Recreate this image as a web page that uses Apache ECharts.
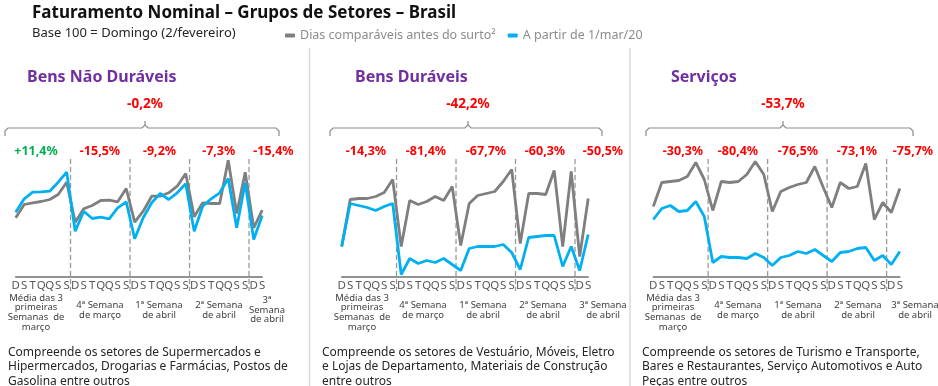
<!DOCTYPE html>
<html><head><meta charset="utf-8">
<script src="https://cdn.jsdelivr.net/npm/echarts@6/dist/echarts.min.js"></script>
<style>html,body{margin:0;padding:0;background:#fff}#c{width:938px;height:386px}</style>
</head><body><div id="c"></div>
<script>
// ---------- DATA ----------
const days = ['D','S','T','Q','Q','S','S','D','S','T','Q','Q','S','S','D','S','T','Q','Q','S','S','D','S','T','Q','Q','S','S','D','S'];
const seriesNames = ['Dias comparáveis antes do surto²', 'A partir de 1/mar/20'];
const panelTitles = ['Bens Não Duráveis', 'Bens Duráveis', 'Serviços'];
const totalChanges = ['-0,2%', '-42,2%', '-53,7%'];

const weekChangesND = ['+11,4%', '-15,5%', '-9,2%', '-7,3%', '-15,4%'];
const weekChangesD  = ['-14,3%', '-81,4%', '-67,7%', '-60,3%', '-50,5%'];
const weekChangesS  = ['-30,3%', '-80,4%', '-76,5%', '-73,1%', '-75,7%'];

const grayND = [98.7,112,113.7,115,117,122,134.3,94.3,107.7,111,116,116.3,114.7,128,94.3,105.3,120.3,120.3,123.7,130.3,143,99.7,113.7,113,113,156.3,103,144.3,88.7,106.3];
const blueND = [104.3,117.7,124.3,124.7,125.3,134.3,144.3,85.3,105.3,98,99.3,97.7,108.7,114.7,77.7,98.7,113.7,123,117,123.7,132.7,85.3,110.3,117.7,123.7,138,88.7,133.7,77,101];

const grayD = [70,117,118,118,120,124,137,70,116,112,115,120,116,130,71,113,121,123,125,135,147,73,123,123,122,146,70,145,60,118];
const blueD = [70,113,111,109,106,110,113,42,58,53,56,54,58,52,46,68,70,70,70,72,64,47,79,80,81,81,50,70,46,82];

const grayS = [110,134,135,136,140,154,137,106,135,134,135,142,155,142,105,125,129,132,134,150,129,109,134,128,130,153,97,114,104,128];
const blueS = [97,108,111,105,106,115,100,54,60,59,59,58,63,59,51,59,61,65,63,67,61,55,64,65,68,69,56,61,52,65];

const captionsND = ['Média das 3\nprimeiras\nSemanas  de\nmarço', '4ª Semana\nde março', '1ª Semana\nde abril', '2ª Semana\nde abril', '3ª\nSemana\nde abril'];
const captionsOther = ['Média das 3\nprimeiras\nSemanas  de\nmarço', '4ª Semana\nde março', '1ª Semana\nde abril', '2ª Semana\nde abril', '3ª Semana\nde abril'];

const notes = [
  'Compreende os setores de Supermercados e\nHipermercados, Drogarias e Farmácias, Postos de\nGasolina entre outros',
  'Compreende os setores de Vestuário, Móveis, Eletro\ne Lojas de Departamento, Materiais de Construção\nentre outros',
  'Compreende os setores de Turismo e Transporte,\nBares e Restaurantes, Serviço Automotivos e Auto\nPeças entre outros'
];
const weekBreaks = [6.45, 13.45, 20.45, 27.45];

// ---------- LAYOUT ----------
const FONT = '"Noto Sans", "Open Sans", sans-serif';
const GRAY = '#7f7f7f', BLUE = '#00b0f0', RED = '#ff0000', GREEN = '#00b050', PURPLE = '#7030a0';
const panels = [
  {left: 15.7, gray: grayND, blue: blueND, weeks: weekChangesND, caps: captionsND,
   titleX: 27, brace: [5, 145, 279], weekX: [36, 100, 159.5, 218.7, 273.5], capX: [36, 100, 159, 219, 267], noteX: 8},
  {left: 341.7, gray: grayD, blue: blueD, weeks: weekChangesD, caps: captionsOther,
   titleX: 355, brace: [330, 468, 602], weekX: [366, 426, 486, 545, 603], capX: [362, 423, 483, 543, 603], noteX: 322},
  {left: 653.3, gray: grayS, blue: blueS, weeks: weekChangesS, caps: captionsOther,
   titleX: 671, brace: [646, 783, 913], weekX: [683, 738, 798, 857, 913], capX: [673, 738, 798, 858, 915], noteX: 642}
];
const GRID_TOP = 156.5, GRID_H = 120, GRID_W = 246.5;

const grids = [], xAxes = [], yAxes = [], series = [];
panels.forEach((p, k) => {
  grids.push({left: p.left, top: GRID_TOP, width: GRID_W, height: GRID_H, containLabel: false});
  xAxes.push({type: 'value', gridIndex: k, min: 0, max: 29, interval: 1,
    axisLine: {show: true, lineStyle: {color: '#6f6f6f', width: 1.5}},
    axisTick: {show: false}, splitLine: {show: false},
    axisLabel: {formatter: v => days[v] || '', color: '#595959', fontSize: 11.5, margin: 3, fontFamily: FONT, showMinLabel: true, showMaxLabel: true}});
  yAxes.push({type: 'value', gridIndex: k, min: 40, max: 160, show: false, splitLine: {show: false}});
  series.push({name: seriesNames[0], type: 'line', xAxisIndex: k, yAxisIndex: k, data: p.gray.map((v, i) => [i, v]),
    symbol: 'none', lineStyle: {color: GRAY, width: 2.8}, itemStyle: {color: GRAY}, z: 2});
  series.push({name: seriesNames[1], type: 'line', xAxisIndex: k, yAxisIndex: k, data: p.blue.map((v, i) => [i, v]),
    symbol: 'none', lineStyle: {color: BLUE, width: 2.8}, itemStyle: {color: BLUE}, z: 3});
});

const chart = echarts.init(document.getElementById('c'));
chart.setOption({
  animation: false,
  grid: grids, xAxis: xAxes, yAxis: yAxes, series: series,
  legend: {left: 280, top: 24, data: seriesNames, icon: 'roundRect', itemWidth: 10, itemHeight: 4, itemGap: 12,
    textStyle: {color: '#8c8c8c', fontSize: 12.5, fontFamily: FONT}}
});

// ---------- GRAPHIC ----------
const g = [];
const txt = (x, y, text, opt) => g.push({type: 'text', x: x, y: y, silent: true,
  style: Object.assign({text: text, fontFamily: FONT, textVerticalAlign: 'middle'}, opt)});

txt(32, 13, 'Faturamento Nominal – Grupos de Setores – Brasil', {fontSize: 17, fontWeight: 'bold', fill: '#111'});
txt(32, 33, 'Base 100 = Domingo (2/fevereiro)', {fontSize: 13, fill: '#262626'});

[309.5, 630].forEach(x => g.push({type: 'line', silent: true, shape: {x1: x, y1: 48, x2: x, y2: 386},
  style: {stroke: '#d9d9d9', lineWidth: 1.5}}));

panels.forEach((p, k) => {
  txt(p.titleX, 77, panelTitles[k], {fontSize: 16, fontWeight: 'bold', fill: PURPLE});
  const [x0, xc, x1] = p.brace;
  txt(xc, 104, totalChanges[k], {fontSize: 13.5, fontWeight: 'bold', fill: RED, textAlign: 'center'});
  g.push({type: 'polyline', silent: true, shape: {points: [[x0, 136], [x0, 131], [x0 + 3, 128], [xc - 3, 128], [xc, 125], [xc, 121]]},
    style: {stroke: '#8c8c8c', lineWidth: 1.2, fill: null}});
  g.push({type: 'polyline', silent: true, shape: {points: [[xc, 125], [xc + 3, 128], [x1 - 3, 128], [x1, 131], [x1, 136]]},
    style: {stroke: '#8c8c8c', lineWidth: 1.2, fill: null}});
  p.weeks.forEach((w, j) => txt(p.weekX[j], 151, w, {fontSize: 12.5, fontWeight: 'bold',
    fill: w.charAt(0) === '+' ? GREEN : RED, textAlign: 'center'}));
  weekBreaks.forEach(b => {
    const pt = chart.convertToPixel({gridIndex: k}, [b, 40]);
    g.push({type: 'line', silent: true, z: 1, shape: {x1: pt[0], y1: 159, x2: pt[0], y2: 291},
      style: {stroke: '#999', lineWidth: 1.3, lineDash: [5, 3]}});
  });
  p.caps.forEach((c, j) => txt(p.capX[j], c.split('\n').length === 4 ? 312.5 : 310, c,
    {fontSize: 9.5, fill: '#404040', textAlign: 'center', lineHeight: 9.6}));
  g.push({type: 'text', x: p.noteX, y: 345, silent: true,
    style: {text: notes[k], fontFamily: FONT, fontSize: 12, fill: '#262626', lineHeight: 14.5}});
});
chart.setOption({graphic: g});
</script>
</body></html>
